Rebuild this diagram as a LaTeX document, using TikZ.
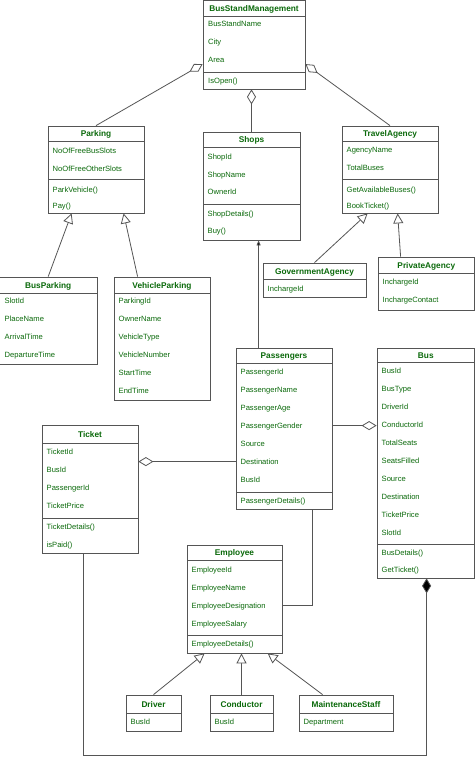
\documentclass[tikz,border=0pt]{standalone}
\usepackage{fontspec}
\setmainfont{Liberation Sans}
\usetikzlibrary{arrows.meta,fit,calc}
\definecolor{txtgreen}{RGB}{10,105,10}
\definecolor{linegray}{RGB}{85,85,85}
\tikzset{
  cls/.style={draw=linegray, line width=0.8pt, fill=white, inner sep=0pt},
  sepline/.style={draw=linegray, line width=0.8pt},
  ttl/.style={font=\fontsize{8.3}{9}\selectfont\bfseries, text=txtgreen, inner sep=0pt, text height=6pt, text depth=0pt},
  att/.style={font=\fontsize{7.6}{9}\selectfont, text=txtgreen, inner sep=0pt, anchor=west, text height=5.4pt, text depth=0pt},
  conn/.style={draw=linegray, line width=0.8pt},
  agg/.style={conn, -{Diamond[fill=white, length=15pt, width=9pt]}},
  comp/.style={conn, -{Diamond[fill=black, length=15pt, width=9pt]}},
  inh/.style={conn, -{Triangle[fill=white, length=10pt, width=10pt]}},
  dep/.style={conn, -{Triangle[fill=black, length=5pt, width=4pt]}},
}
% #1 name, #2 left, #3 top, #4 right, #5 bottom, #6 title, #7 header line y
\newcommand\umlclass[7]{%
  \node[cls, fit={(#2,#3) (#4,#5)}] (#1) {};
  \draw[sepline] (#2,#7) -- (#4,#7);
  \node[ttl] (#1-t) at ({(#2+#4)/2},{(#3+#7)/2}) {#6};
}
\newcommand\umlsep[3]{\draw[sepline] (#1,#3) -- (#2,#3);}
\newcommand\umlattrs[3]{%
  \foreach[count=\i] \t/\yy in {#3} {\node[att] (#1-\i) at (#2,\yy) {\t};}
}
\begin{document}
\begin{tikzpicture}[x=1pt,y=-1pt]
\fill[white] (0,0) rectangle (474,771);
\useasboundingbox (0,0) rectangle (474,771);

% BusStandManagement
\umlclass{bsm}{203}{0.5}{305}{89}{BusStandManagement}{16}
\umlsep{203}{305}{72}
\umlattrs{bsm}{208}{BusStandName/24, City/42, Area/60, IsOpen()/81}

% Parking
\umlclass{parking}{48}{126}{144}{213}{Parking}{141}
\umlsep{48}{144}{179}
\umlattrs{parking}{52.5}{NoOfFreeBusSlots/151, NoOfFreeOtherSlots/169, ParkVehicle()/190, Pay()/206}

% Shops
\umlclass{shops}{203}{132}{300}{240}{Shops}{147}
\umlsep{203}{300}{204}
\umlattrs{shops}{207.5}{ShopId/157, ShopName/175, OwnerId/192, ShopDetails()/214, Buy()/231}

% TravelAgency
\umlclass{travel}{342}{126}{438}{213}{TravelAgency}{141}
\umlsep{342}{438}{179}
\umlattrs{travel}{346.5}{AgencyName/150, TotalBuses/168, GetAvailableBuses()/190, BookTicket()/206}

% GovernmentAgency
\umlclass{gov}{263}{263}{366}{297}{GovernmentAgency}{279}
\umlattrs{gov}{267.5}{InchargeId/289}

% PrivateAgency
\umlclass{private}{378}{257}{474.6}{310}{PrivateAgency}{273}
\umlattrs{private}{382.5}{InchargeId/282, InchargeContact/300}

% BusParking
\umlclass{busparking}{-0.6}{277}{97}{364}{BusParking}{293}
\umlattrs{busparking}{4.5}{SlotId/301, PlaceName/319, ArrivalTime/337, DepartureTime/355}

% VehicleParking
\umlclass{vparking}{114}{277}{210}{400}{VehicleParking}{293}
\umlattrs{vparking}{118.5}{ParkingId/301, OwnerName/319, VehicleType/337, VehicleNumber/355, StartTime/373, EndTime/391}

% Passengers
\umlclass{passengers}{236}{348}{332}{509}{Passengers}{363}
\umlsep{236}{332}{492}
\umlattrs{passengers}{240.5}{PassengerId/372, PassengerName/390, PassengerAge/408, PassengerGender/426, Source/444, Destination/462, BusId/480, PassengerDetails()/501}

% Bus
\umlclass{bus}{377}{348}{474.6}{578}{Bus}{362}
\umlsep{377}{474.6}{544}
\umlattrs{bus}{381.5}{BusId/371, BusType/389, DriverId/407, ConductorId/425, TotalSeats/443, SeatsFilled/461, Source/479, Destination/497, TicketPrice/515, SlotId/533, BusDetails()/553, GetTicket()/570}

% Ticket
\umlclass{ticket}{42}{425}{138}{553}{Ticket}{443}
\umlsep{42}{138}{518}
\umlattrs{ticket}{46.5}{TicketId/452, BusId/470, PassengerId/488, TicketPrice/506, TicketDetails()/527, isPaid()/545}

% Employee
\umlclass{employee}{187}{545}{282}{653}{Employee}{560}
\umlsep{187}{282}{635}
\umlattrs{employee}{191.5}{EmployeeId/570, EmployeeName/588, EmployeeDesignation/606, EmployeeSalary/624, EmployeeDetails()/644}

% Driver, Conductor, MaintenanceStaff
\umlclass{driver}{126}{695}{181}{731}{Driver}{713}
\umlattrs{driver}{130.5}{BusId/722}
\umlclass{conductor}{210}{695}{273}{731}{Conductor}{713}
\umlattrs{conductor}{214.5}{BusId/722}
\umlclass{maint}{299}{695}{393}{731}{MaintenanceStaff}{713}
\umlattrs{maint}{303.5}{Department/722}

% Connectors
\draw[agg] (parking.north) -- ($(bsm.north west)+(0,64)$);
\draw[agg] (travel.north) -- ($(bsm.north east)+(0,64)$);
\draw[agg] (shops.north) -- (shops.north |- bsm.south);
\draw[inh] (busparking.north) -- ($(parking.south west)+(24,0)$);
\draw[inh] ($(vparking.north west)+(24,0)$) -- ($(parking.south west)+(76,0)$);
\draw[inh] (gov.north) -- ($(travel.south west)+(26,0)$);
\draw[inh] ($(private.north west)+(23,0)$) -- ($(travel.south west)+(56,0)$);
\draw[dep] ($(passengers.north west)+(23,0)$) -- ($(shops.south west)+(56,0)$);
\draw[agg] ($(passengers.north east)+(0,78)$) -- ($(bus.north west)+(0,78)$);
\draw[agg] ($(passengers.north west)+(0,114)$) -- ($(ticket.north east)+(0,37)$);
\draw[conn] ($(employee.north east)+(0,61)$) -| ($(passengers.south west)+(77,0)$);
\draw[comp] ($(ticket.south west)+(42,0)$) -- ++(0,202) -| ($(bus.south west)+(50,0)$);
\draw[inh] (driver.north) -- ($(employee.south west)+(18,0)$);
\draw[inh] (conductor.north) -- (conductor.north |- employee.south);
\draw[inh] ($(maint.north west)+(24,0)$) -- ($(employee.south west)+(81,0)$);
\end{tikzpicture}
\end{document}
